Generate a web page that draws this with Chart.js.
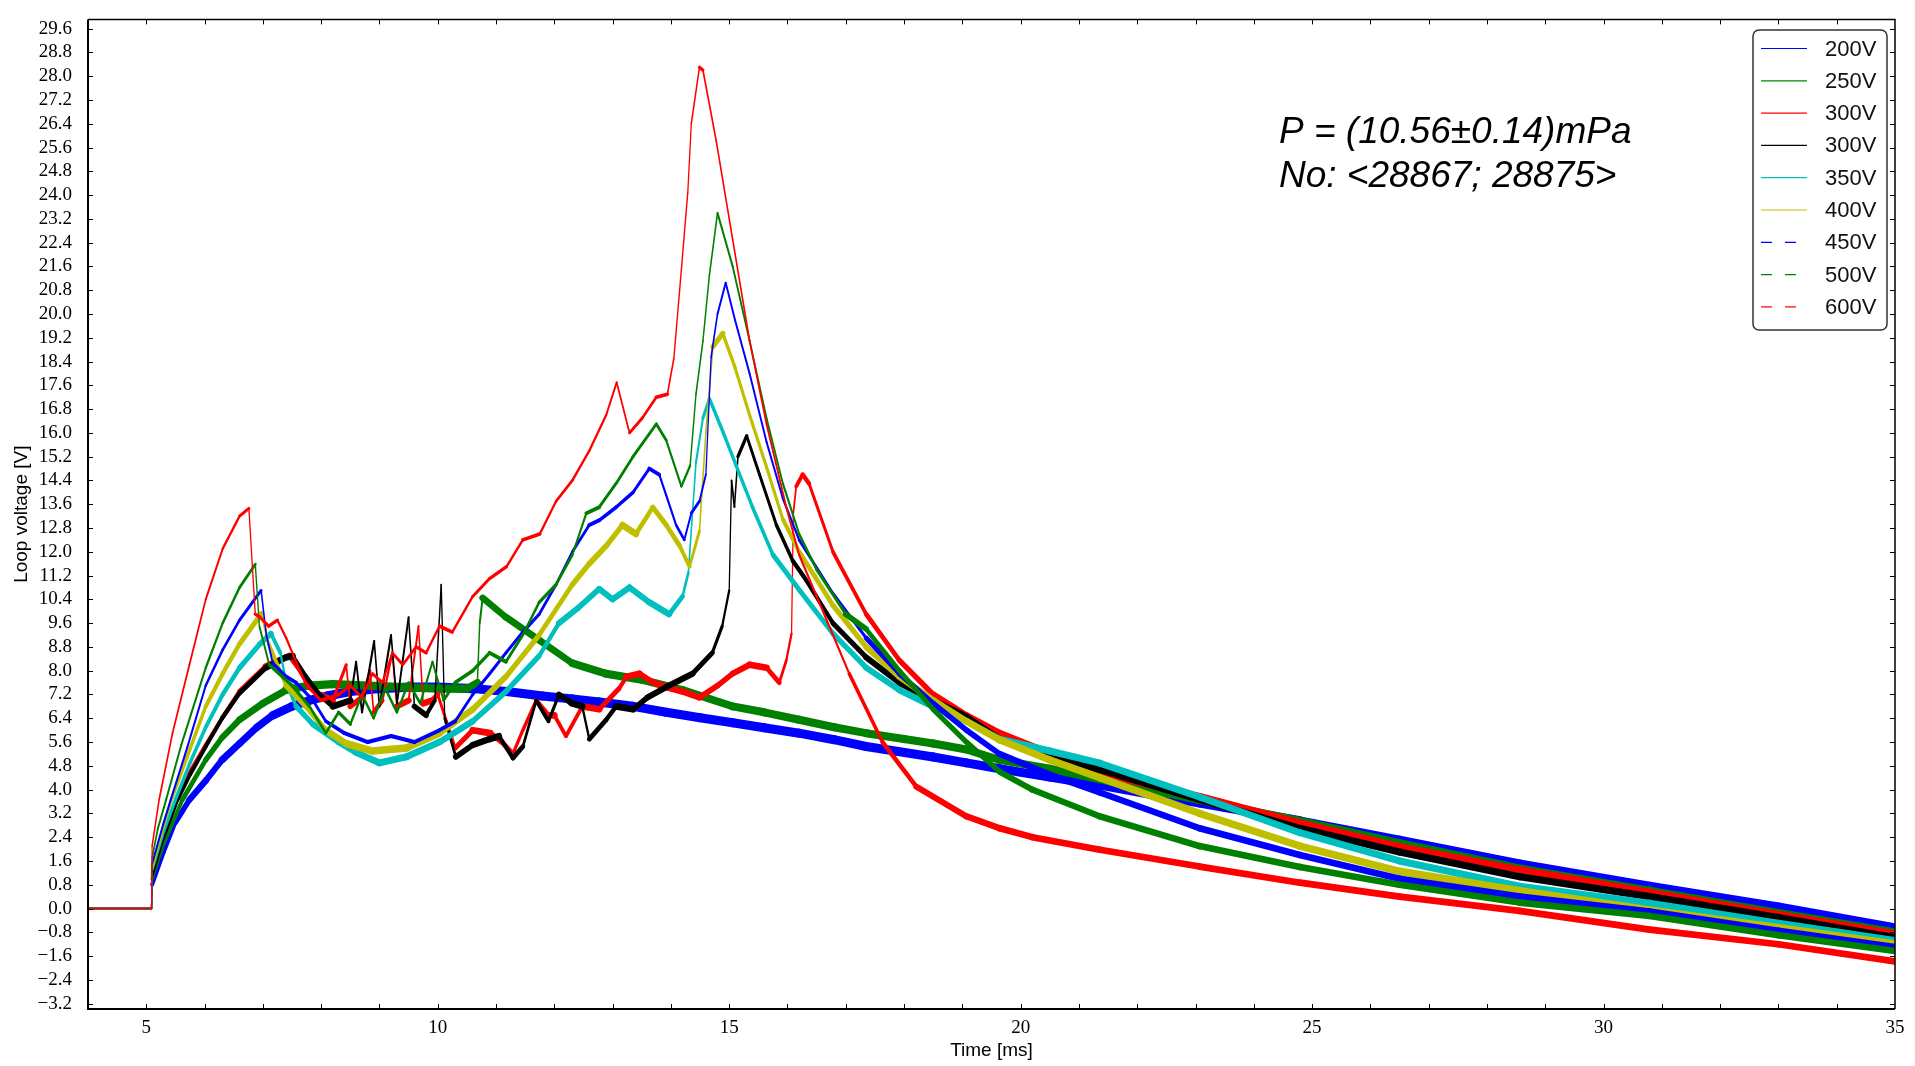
<!DOCTYPE html>
<html>
<head>
<meta charset="utf-8">
<title>Loop voltage</title>
<script src="https://cdn.jsdelivr.net/npm/chart.js@4.4.1/dist/chart.umd.min.js"></script>
<style>
  html, body { margin: 0; padding: 0; background: #fff; }
  #wrap { position: relative; width: 1915px; height: 1066px; }
</style>
</head>
<body>
<div id="wrap"><canvas id="loopChart"></canvas></div>
<script>
// traces, [time ms, loop voltage V]
const shot200 = [[4,0],[5.09,0],[5.1,0.8],[5.3,1.9],[5.5,2.9],[5.74,3.66],[6.02,4.3],[6.3,5.0],[6.6,5.55],[6.9,6.1],[7.17,6.5],[7.5,6.8],[7.8,7.0],[8.1,7.15],[8.5,7.3],[9.0,7.4],[9.5,7.45],[10.0,7.45],[10.6,7.4],[11.18,7.3],[11.8,7.15],[12.31,7.05],[12.77,6.95],[13.35,6.8],[13.92,6.6],[14.5,6.42],[15.06,6.25],[15.6,6.08],[16.2,5.9],[16.8,5.68],[17.35,5.45],[17.9,5.28],[18.5,5.1],[19.07,4.9],[19.64,4.7],[20.5,4.42],[21.36,4.15],[22.2,3.85],[23.07,3.55],[24.79,2.95],[26.5,2.3],[28.56,1.5],[30.79,0.75],[33,0.05],[35,-0.65]];
const shot250 = [[4,0],[5.09,0],[5.1,1.0],[5.3,2.2],[5.62,3.66],[6.02,5.0],[6.3,5.75],[6.6,6.35],[7.0,6.9],[7.4,7.35],[7.8,7.5],[8.2,7.55],[8.8,7.5],[9.4,7.45],[10.0,7.4],[10.5,7.4],[10.68,7.6],[10.72,9.6],[10.77,10.45],[11.17,9.8],[11.74,9.03],[12.31,8.25],[12.89,7.9],[13.5,7.7],[14.2,7.35],[15.06,6.8],[15.6,6.6],[16.2,6.35],[16.8,6.1],[17.35,5.9],[18.0,5.7],[18.5,5.55],[19.07,5.35],[19.64,5.0],[20.5,4.7],[21.36,4.35],[23.07,3.65],[24.79,2.95],[26.5,2.2],[28.56,1.35],[30.79,0.6],[33,-0.15],[35,-0.8]];
const shot300red = [[4,0],[5.09,0],[5.1,1.2],[5.3,2.5],[5.52,3.7],[5.75,4.6],[6.02,5.5],[6.3,6.4],[6.6,7.3],[7.05,8.15],[7.45,8.5],[7.6,8.1],[7.75,7.6],[7.97,7.2],[8.2,7.0],[8.43,8.2],[8.5,6.8],[8.7,7.1],[8.84,8.0],[8.9,6.6],[9.05,7.0],[9.22,8.6],[9.3,6.8],[9.5,7.0],[9.67,9.5],[9.75,6.9],[9.9,7.0],[10.0,7.2],[10.15,6.3],[10.3,5.4],[10.6,6.0],[10.9,5.9],[11.1,5.6],[11.29,5.2],[11.46,6.0],[11.69,7.0],[11.9,6.5],[12.0,6.5],[12.2,5.8],[12.48,6.8],[12.77,6.7],[13.11,7.4],[13.24,7.8],[13.46,7.9],[13.7,7.6],[13.92,7.45],[14.2,7.3],[14.49,7.1],[14.8,7.5],[15.06,7.9],[15.35,8.2],[15.64,8.1],[15.86,7.6],[15.98,8.35],[16.07,9.25],[16.1,13.3],[16.15,14.2],[16.26,14.6],[16.37,14.3],[16.78,12.0],[17.35,9.9],[17.92,8.35],[18.5,7.2],[19.07,6.5],[19.64,5.9],[20.79,5.0],[21.7,4.4],[23.07,3.77],[24.79,2.88],[26.5,2.08],[28.56,1.3],[30.79,0.55],[33,-0.2],[35,-0.85]];
const shot300black = [[4,0],[5.09,0],[5.1,1.1],[5.3,2.4],[5.54,3.66],[5.75,4.5],[6.02,5.45],[6.3,6.4],[6.6,7.25],[7.05,8.1],[7.4,8.45],[7.51,8.5],[7.74,7.8],[7.97,7.2],[8.2,6.8],[8.5,7.0],[8.6,8.3],[8.7,6.6],[8.91,9.0],[9.0,6.8],[9.2,9.2],[9.3,6.9],[9.5,9.8],[9.6,6.8],[9.8,6.5],[9.95,7.0],[10.06,10.9],[10.12,6.4],[10.31,5.1],[10.6,5.5],[10.89,5.7],[11.05,5.8],[11.29,5.06],[11.46,5.45],[11.69,7.0],[11.9,6.3],[12.08,7.2],[12.3,6.9],[12.48,6.8],[12.6,5.7],[12.89,6.35],[13.06,6.8],[13.35,6.7],[13.6,7.1],[13.92,7.45],[14.37,7.9],[14.71,8.6],[14.88,9.5],[15.0,10.7],[15.04,14.4],[15.09,13.5],[15.15,15.2],[15.3,15.9],[15.52,14.6],[15.81,12.9],[16.09,11.7],[16.32,11.05],[16.78,9.6],[17.35,8.45],[17.92,7.6],[18.49,7.0],[19.07,6.45],[19.64,5.7],[20.5,5.15],[21.36,4.67],[23.07,3.66],[24.79,2.7],[26.5,1.9],[28.56,1.07],[30.79,0.4],[33,-0.3],[35,-0.98]];
const shot350 = [[4,0],[5.09,0],[5.1,1.3],[5.3,2.6],[5.5,3.66],[5.75,4.9],[6.02,6.1],[6.31,7.2],[6.6,8.1],[6.95,8.9],[7.14,9.25],[7.3,8.6],[7.4,7.6],[7.57,6.8],[7.86,6.2],[8.3,5.6],[8.6,5.25],[9.0,4.9],[9.46,5.1],[10.03,5.6],[10.6,6.3],[11.17,7.3],[11.74,8.5],[12.08,9.6],[12.4,10.1],[12.77,10.75],[13.0,10.4],[13.29,10.8],[13.63,10.3],[13.97,9.9],[14.2,10.5],[14.3,11.3],[14.43,15.0],[14.55,16.5],[14.66,17.15],[14.9,16.0],[15.12,14.9],[15.4,13.5],[15.75,11.9],[16.21,10.7],[16.78,9.25],[17.35,8.1],[17.92,7.35],[18.49,6.8],[19.07,6.3],[19.64,5.7],[20.5,5.3],[21.36,4.89],[23.07,3.75],[24.79,2.55],[26.5,1.6],[28.56,0.75],[30.79,0.18],[33,-0.5],[35,-1.08]];
const shot400 = [[4,0],[5.09,0],[5.1,1.4],[5.3,2.8],[5.43,3.66],[5.7,5.1],[6.02,6.8],[6.31,7.9],[6.6,8.9],[6.98,9.93],[7.1,8.9],[7.4,7.5],[7.74,6.8],[8.08,6.0],[8.43,5.55],[8.88,5.3],[9.46,5.4],[10.03,5.9],[10.6,6.7],[11.17,7.8],[11.74,9.2],[12.31,10.9],[12.6,11.6],[12.89,12.2],[13.17,12.9],[13.4,12.6],[13.69,13.5],[13.92,12.9],[14.15,12.2],[14.32,11.5],[14.49,12.7],[14.6,16.0],[14.72,18.9],[14.89,19.35],[15.1,18.2],[15.35,16.6],[15.64,14.85],[15.92,13.1],[16.2,12.0],[16.78,10.2],[17.35,8.8],[17.92,7.8],[18.5,7.0],[19.07,6.3],[19.64,5.67],[20.5,5.0],[21.36,4.4],[23.07,3.2],[24.79,2.1],[26.5,1.25],[28.56,0.6],[30.79,-0.05],[33,-0.65],[35,-1.2]];
const shot450 = [[4,0],[5.09,0],[5.1,1.5],[5.3,2.9],[5.42,3.66],[5.7,5.4],[6.02,7.5],[6.31,8.7],[6.6,9.7],[6.97,10.7],[7.06,9.2],[7.17,8.25],[7.4,7.8],[7.57,7.6],[7.86,7.0],[8.08,6.3],[8.4,5.9],[8.8,5.6],[9.2,5.8],[9.6,5.6],[10.03,6.0],[10.3,6.3],[10.6,7.2],[10.89,7.9],[11.17,8.6],[11.46,9.3],[11.74,9.9],[12.03,10.9],[12.31,12.0],[12.6,12.9],[12.77,13.06],[13.06,13.5],[13.35,14.0],[13.63,14.8],[13.8,14.6],[13.92,13.9],[14.09,12.9],[14.23,12.4],[14.35,13.3],[14.49,13.7],[14.6,14.6],[14.69,18.55],[14.8,20.0],[14.94,21.05],[15.1,19.8],[15.35,18.0],[15.64,15.7],[15.92,13.8],[16.2,12.4],[16.78,10.6],[17.35,9.1],[17.92,7.9],[18.5,6.9],[19.07,6.0],[19.64,5.2],[20.5,4.5],[21.36,3.9],[23.07,2.7],[24.79,1.8],[26.5,1.0],[28.56,0.4],[30.79,-0.1],[33,-0.75],[35,-1.3]];
const shot500 = [[4,0],[5.09,0],[5.1,1.7],[5.2,2.7],[5.34,3.66],[5.6,5.5],[6.02,8.1],[6.31,9.6],[6.6,10.8],[6.87,11.58],[6.94,9.5],[7.11,8.2],[7.5,7.5],[7.8,6.8],[8.08,5.9],[8.3,6.6],[8.5,6.2],[8.7,7.2],[8.9,6.4],[9.1,7.4],[9.3,6.6],[9.5,7.6],[9.7,6.9],[9.91,8.3],[10.1,7.0],[10.3,7.6],[10.6,8.0],[10.89,8.6],[11.17,8.3],[11.46,9.2],[11.74,10.3],[12.03,10.9],[12.31,11.9],[12.55,13.3],[12.77,13.5],[13.06,14.3],[13.35,15.2],[13.75,16.3],[13.92,15.75],[14.18,14.2],[14.33,14.9],[14.43,17.3],[14.55,19.1],[14.66,21.3],[14.8,23.4],[15.06,21.6],[15.35,19.1],[15.64,16.5],[15.92,14.3],[16.2,12.6],[16.5,11.4],[17.0,9.9],[17.35,9.4],[17.92,8.0],[18.5,6.7],[19.07,5.6],[19.64,4.6],[20.2,4.0],[21.36,3.1],[23.07,2.1],[24.79,1.4],[26.5,0.8],[28.56,0.2],[30.79,-0.25],[33,-0.9],[35,-1.43]];
const shot600 = [[4,0],[5.09,0],[5.1,2.1],[5.22,3.66],[5.45,5.9],[5.74,8.2],[6.02,10.4],[6.31,12.1],[6.6,13.2],[6.76,13.46],[6.82,11.5],[6.87,9.9],[6.95,9.8],[7.1,9.5],[7.25,9.7],[7.4,9.1],[7.57,8.3],[7.75,7.5],[8.0,7.0],[8.3,7.2],[8.5,7.5],[8.7,7.1],[8.88,7.9],[9.05,7.6],[9.22,8.6],[9.4,8.2],[9.63,8.8],[9.8,8.6],[10.03,9.5],[10.25,9.3],[10.6,10.5],[10.89,11.1],[11.18,11.5],[11.46,12.4],[11.75,12.6],[12.03,13.7],[12.31,14.4],[12.6,15.4],[12.89,16.6],[13.07,17.7],[13.29,16.0],[13.51,16.5],[13.75,17.2],[13.94,17.3],[14.05,18.5],[14.18,21.5],[14.29,24.1],[14.35,26.4],[14.49,28.3],[14.55,28.2],[14.78,25.8],[15.06,22.5],[15.35,19.1],[15.64,16.3],[15.98,13.5],[16.2,11.9],[16.5,10.5],[17.06,7.9],[17.63,5.6],[18.21,4.1],[19.07,3.1],[19.64,2.7],[20.2,2.4],[21.36,1.98],[23.07,1.41],[24.79,0.87],[26.5,0.4],[28.56,-0.08],[30.79,-0.71],[33,-1.2],[35,-1.78]];

const shots = [shot200, shot250, shot300red, shot300black, shot350, shot400, shot450, shot500, shot600];
const voltages = ['200V', '250V', '300V', '300V', '350V', '400V', '450V', '500V', '600V'];
const colors = ['#0000ff', '#008000', '#ff0000', '#000000', '#00bfbf', '#bfbf00', '#0000ff', '#008000', '#ff0000'];
const dashed = [false, false, false, false, false, false, true, true, true];
// how wide the noise band looks on flat stretches, before and after the current peak
const bandEarly = [8, 7, 5.5, 5.5, 6, 6.5, 3, 3, 2.5];
const bandLate = [8, 7, 6, 6, 6, 6.5, 5.5, 5.5, 5.5];

const yTickValues = [-3.2, -2.4, -1.6, -0.8, 0, 0.8, 1.6, 2.4, 3.2, 4, 4.8, 5.6, 6.4, 7.2, 8, 8.8, 9.6, 10.4, 11.2, 12, 12.8, 13.6, 14.4, 15.2, 16, 16.8, 17.6, 18.4, 19.2, 20, 20.8, 21.6, 22.4, 23.2, 24, 24.8, 25.6, 26.4, 27.2, 28, 28.8, 29.6];
const xTickValues = [5, 10, 15, 20, 25, 30, 35];
const xMinorTicks = [5, 6, 7, 8, 9, 10, 11, 12, 13, 14, 15, 16, 17, 18, 19, 20, 21, 22, 23, 24, 25, 26, 27, 28, 29, 30, 31, 32, 33, 34];

const pressureText = ['P = (10.56\u00b10.14)mPa', 'No: <28867; 28875>'];

// a noisy trace looks thick where it runs flat and thin where it is steep;
// before the discharge starts the signal is clean
function bandWidth(i) {
    return function (ctx) {
        const t0 = shots[i][ctx.p0DataIndex][0];
        if (t0 < 5.05) return 1.6;
        const band = t0 < 17 ? bandEarly[i] : bandLate[i];
        const dx = ctx.p1.x - ctx.p0.x;
        const dy = ctx.p1.y - ctx.p0.y;
        const len = Math.hypot(dx, dy) || 1;
        return 1.2 + band * Math.abs(dx) / len;
    };
}

const framePlugin = {
    id: 'frame',
    afterDatasetsDraw(chart) {
        const { ctx, chartArea: a, scales } = chart;
        const x = scales.x, y = scales.y;
        ctx.save();
        ctx.strokeStyle = '#000';
        ctx.lineWidth = 1;
        ctx.beginPath();
        xMinorTicks.forEach(v => {
            const px = Math.round(x.getPixelForValue(v)) + 0.5;
            ctx.moveTo(px, a.bottom); ctx.lineTo(px, a.bottom - 5);
            ctx.moveTo(px, a.top); ctx.lineTo(px, a.top + 5);
        });
        yTickValues.forEach(v => {
            const py = Math.round(y.getPixelForValue(v)) + 0.5;
            ctx.moveTo(a.left, py); ctx.lineTo(a.left + 5, py);
            ctx.moveTo(a.right, py); ctx.lineTo(a.right - 5, py);
        });
        ctx.stroke();

        ctx.lineWidth = 1.5;
        ctx.beginPath();
        ctx.moveTo(a.left, a.top); ctx.lineTo(a.right, a.top); ctx.lineTo(a.right, a.bottom);
        ctx.stroke();
        ctx.lineWidth = 2;
        ctx.beginPath();
        ctx.moveTo(a.right, a.bottom); ctx.lineTo(a.left, a.bottom); ctx.lineTo(a.left, a.top);
        ctx.stroke();
        ctx.restore();
    },
    afterDraw(chart) {
        const ctx = chart.ctx;
        ctx.save();

        // legend box, upper right
        const bx = 1753, by = 30, bw = 134, bh = 300, r = 6;
        ctx.beginPath();
        ctx.moveTo(bx + r, by);
        ctx.lineTo(bx + bw - r, by);
        ctx.arcTo(bx + bw, by, bx + bw, by + r, r);
        ctx.lineTo(bx + bw, by + bh - r);
        ctx.arcTo(bx + bw, by + bh, bx + bw - r, by + bh, r);
        ctx.lineTo(bx + r, by + bh);
        ctx.arcTo(bx, by + bh, bx, by + bh - r, r);
        ctx.lineTo(bx, by + r);
        ctx.arcTo(bx, by, bx + r, by, r);
        ctx.closePath();
        ctx.fillStyle = '#fff';
        ctx.fill();
        ctx.strokeStyle = '#333';
        ctx.lineWidth = 1.5;
        ctx.stroke();

        ctx.font = '22px "Liberation Sans", Arial, sans-serif';
        ctx.textBaseline = 'middle';
        ctx.textAlign = 'left';
        voltages.forEach((label, i) => {
            const ly = 48.5 + i * 32.3;
            ctx.strokeStyle = colors[i];
            ctx.lineWidth = 1.2;
            ctx.setLineDash(dashed[i] ? [11, 13] : []);
            ctx.beginPath();
            ctx.moveTo(1761, ly);
            ctx.lineTo(1807, ly);
            ctx.stroke();
            ctx.setLineDash([]);
            ctx.fillStyle = '#111';
            ctx.fillText(label, 1825, ly + 1);
        });

        ctx.font = 'italic 37px "Liberation Sans", Arial, sans-serif';
        ctx.textBaseline = 'alphabetic';
        ctx.fillStyle = '#000';
        ctx.fillText(pressureText[0], 1279, 143);
        ctx.fillText(pressureText[1], 1279, 187);
        ctx.restore();
    }
};

const datasets = shots.map((points, i) => ({
    label: voltages[i],
    data: points.map(([t, v]) => ({ x: t, y: v })),
    borderColor: colors[i],
    backgroundColor: colors[i],
    borderWidth: 1.5,
    borderJoinStyle: 'round',
    borderCapStyle: 'round',
    pointRadius: 0,
    tension: 0,
    fill: false,
    order: shots.length - 1 - i,
    segment: { borderWidth: bandWidth(i) }
}));

new Chart(document.getElementById('loopChart'), {
    type: 'line',
    data: { datasets: datasets },
    options: {
        responsive: true,
        maintainAspectRatio: false,
        animation: false,
        devicePixelRatio: 1,
        layout: { padding: { left: 0, right: 20, top: 19, bottom: 4 } },
        plugins: {
            legend: { display: false },
            tooltip: { enabled: false }
        },
        scales: {
            x: {
                type: 'linear',
                min: 4,
                max: 35,
                grid: { display: false },
                border: { display: false },
                afterBuildTicks: s => { s.ticks = xTickValues.map(v => ({ value: v })); },
                afterFit: s => { s.height = 53; },
                ticks: {
                    autoSkip: false,
                    maxRotation: 0,
                    padding: 0,
                    color: '#000',
                    font: { family: '"Liberation Serif", serif', size: 19 },
                    callback: v => String(v)
                },
                title: {
                    display: true,
                    text: 'Time [ms]',
                    color: '#000',
                    font: { family: '"Liberation Sans", Arial, sans-serif', size: 19 },
                    padding: { top: 0, bottom: 0 }
                }
            },
            y: {
                type: 'linear',
                min: -3.38,
                max: 29.91,
                grid: { display: false },
                border: { display: false },
                afterBuildTicks: s => { s.ticks = yTickValues.map(v => ({ value: v })); },
                afterFit: s => { s.width = 88; },
                ticks: {
                    autoSkip: false,
                    padding: 8,
                    color: '#000',
                    font: { family: '"Liberation Serif", serif', size: 19 },
                    callback: v => v.toFixed(1).replace('-', '\u2212')
                },
                title: {
                    display: true,
                    text: 'Loop voltage [V]',
                    color: '#000',
                    font: { family: '"Liberation Sans", Arial, sans-serif', size: 19 },
                    padding: { top: 10, bottom: 0 }
                }
            }
        }
    },
    plugins: [framePlugin]
});
</script>
</body>
</html>
